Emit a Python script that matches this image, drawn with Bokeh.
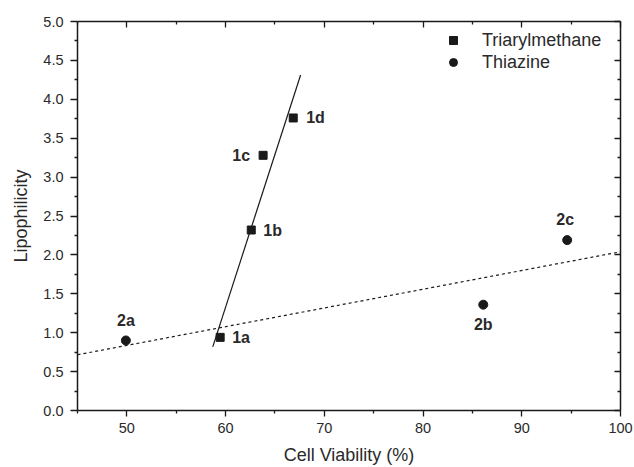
import numpy as np
from bokeh.plotting import figure
from bokeh.models import (ColumnDataSource, LinearAxis, FixedTicker, Legend, LegendItem,
                          CustomJSTickFormatter, PrintfTickFormatter)
from bokeh.core.properties import value
from bokeh.embed import file_html
from bokeh.resources import INLINE

# ---------------- data ----------------
TRI_NAMES = ["1a", "1b", "1c", "1d"]
TRI_VIAB = [59.45, 62.6, 63.8, 66.85]
TRI_LIPO = [0.94, 2.32, 3.28, 3.76]

THI_NAMES = ["2a", "2b", "2c"]
THI_VIAB = [49.9, 86.1, 94.6]
THI_LIPO = [0.90, 1.36, 2.19]

TRI_FIT_RANGE = [58.7, 67.6]
THI_FIT_RANGE = [45.0, 100.0]

X_MAJOR = [50, 60, 70, 80, 90, 100]
X_MINOR = [45, 55, 65, 75, 85, 95]
Y_MAJOR = [0.0, 0.5, 1.0, 1.5, 2.0, 2.5, 3.0, 3.5, 4.0, 4.5, 5.0]
Y_MINOR = [0.25, 0.75, 1.25, 1.75, 2.25, 2.75, 3.25, 3.75, 4.25, 4.75]

# ---------------- style ----------------
FONT = "Liberation Sans"
INK = "#1a1a1a"
TXT = "#2a2a2a"

# label placement: (align, dx, dy) in screen px
PLACE = {
    "1a": ("left", 12, 0), "1b": ("left", 12, 0), "1c": ("right", -13, 0),
    "1d": ("left", 13, 0), "2a": ("center", 0, -20), "2b": ("center", 0, 20),
    "2c": ("center", -2, -21),
}

p = figure(width=634, height=467, x_range=(45, 100), y_range=(0, 5),
           output_backend="svg", toolbar_location=None,
           min_border_left=77, min_border_right=14, min_border_top=21, min_border_bottom=57)
p.xgrid.visible = False
p.ygrid.visible = False
p.outline_line_color = None
p.background_fill_color = "white"
p.border_fill_color = "white"

def style_axis(ax, major, minor, tin, tout, mtin, mtout):
    ax.ticker = FixedTicker(ticks=major, minor_ticks=minor)
    ax.axis_line_color = INK
    ax.axis_line_width = 1.5
    ax.major_tick_line_color = INK
    ax.minor_tick_line_color = INK
    ax.major_tick_line_width = 1.3
    ax.minor_tick_line_width = 1.3
    ax.major_tick_in = tin
    ax.major_tick_out = tout
    ax.minor_tick_in = mtin
    ax.minor_tick_out = mtout
    ax.major_label_text_font = FONT
    ax.major_label_text_font_size = "14.5px"
    ax.major_label_text_color = TXT
    ax.axis_label_text_font = FONT
    ax.axis_label_text_font_size = "18px"
    ax.axis_label_text_font_style = "normal"
    ax.axis_label_text_color = TXT

xa = p.xaxis[0]
style_axis(xa, X_MAJOR, X_MINOR, 0, 6, 0, 3)
xa.axis_label = "Cell Viability (%)"
xa.major_label_standoff = 6
xa.axis_label_standoff = 9

ya = p.yaxis[0]
style_axis(ya, Y_MAJOR, Y_MINOR, 0, 7, 0, 3)
ya.axis_label = "Lipophilicity"
ya.formatter = PrintfTickFormatter(format="%.1f")
ya.major_label_standoff = 7
ya.axis_label_standoff = 9

blank = CustomJSTickFormatter(code="return ''")

top = LinearAxis()
style_axis(top, X_MAJOR, X_MINOR, 6, 0, 3, 0)
top.formatter = blank
top.major_label_standoff = 0
p.add_layout(top, "above")

right = LinearAxis()
style_axis(right, Y_MAJOR, Y_MINOR, 6, 0, 3, 0)
right.formatter = blank
right.major_label_standoff = 0
p.add_layout(right, "right")

# fit lines via least squares
tri_coef = np.polyfit(TRI_VIAB, TRI_LIPO, 1)
thi_coef = np.polyfit(THI_VIAB, THI_LIPO, 1)
tri_fx = np.array(TRI_FIT_RANGE)
thi_fx = np.array(THI_FIT_RANGE)
p.line(tri_fx, np.polyval(tri_coef, tri_fx), line_color=INK, line_width=1.2)
p.line(thi_fx, np.polyval(thi_coef, thi_fx), line_color=INK, line_width=1.2, line_dash="3 3")

tri_src = ColumnDataSource(dict(x=TRI_VIAB, y=TRI_LIPO, name=TRI_NAMES))
thi_src = ColumnDataSource(dict(x=THI_VIAB, y=THI_LIPO, name=THI_NAMES))
r_sq = p.scatter("x", "y", source=tri_src, marker="square", size=8,
                 fill_color=INK, line_color=INK)
r_ci = p.scatter("x", "y", source=thi_src, marker="circle", size=9,
                 fill_color=INK, line_color=INK)

names = TRI_NAMES + THI_NAMES
lx = TRI_VIAB + THI_VIAB
ly = TRI_LIPO + THI_LIPO
lab_src = ColumnDataSource(dict(
    x=lx, y=ly, text=names,
    align=[PLACE[n][0] for n in names],
    dx=[PLACE[n][1] for n in names],
    dy=[PLACE[n][2] for n in names],
))
p.text("x", "y", text="text", source=lab_src, text_align="align",
       x_offset="dx", y_offset="dy", text_baseline="middle",
       text_font=value(FONT), text_font_size="16px", text_font_style="bold",
       text_color=TXT)

legend = Legend(items=[LegendItem(label="Triarylmethane", renderers=[r_sq]),
                       LegendItem(label="Thiazine", renderers=[r_ci])],
                location=(366, 337))
legend.padding = 0
legend.spacing = 0
legend.margin = 0
legend.glyph_width = 20
legend.glyph_height = 22
legend.label_height = 22
legend.label_standoff = 19
legend.border_line_alpha = 0
legend.background_fill_alpha = 0
legend.label_text_font = FONT
legend.label_text_font_size = "18px"
legend.label_text_color = TXT
legend.label_text_baseline = "middle"
p.add_layout(legend)

open("out.html", "w").write(file_html(p, INLINE))
